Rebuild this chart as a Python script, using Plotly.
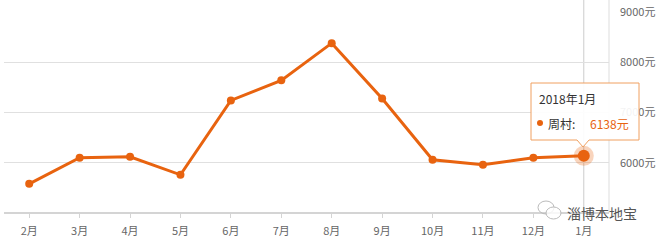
import plotly.graph_objects as go

months = ["2月", "3月", "4月", "5月", "6月", "7月", "8月", "9月", "10月", "11月", "12月", "1月"]
prices = [5580, 6100, 6120, 5760, 7240, 7640, 8380, 7280, 6060, 5960, 6100, 6138]
y_ticks = [6000, 7000, 8000, 9000]
y_tick_labels = ["6000元", "7000元", "8000元", "9000元"]
series_name = "周村"
hover_label = "2018年1月"

ORANGE = "#E8630F"
FONT = "Noto Sans CJK SC"

W, H = 668, 249
L, R, T, B = 4, 59, 12, 36
pw, ph = W - L - R, H - T - B

def px(x):
    return (x - L) / pw

def py(y):
    return (H - B - y) / ph

fig = go.Figure()
fig.add_trace(go.Scatter(
    x=months, y=prices, mode="lines+markers",
    line=dict(color=ORANGE, width=3),
    marker=dict(color=ORANGE, size=8),
    hoverinfo="skip", showlegend=False, cliponaxis=False,
))
fig.add_trace(go.Scatter(
    x=[months[-1]], y=[prices[-1]], mode="markers",
    marker=dict(color="rgba(232,99,15,0.28)", size=20),
    hoverinfo="skip", showlegend=False, cliponaxis=False,
))
fig.add_trace(go.Scatter(
    x=[months[-1]], y=[prices[-1]], mode="markers",
    marker=dict(color=ORANGE, size=12),
    hoverinfo="skip", showlegend=False, cliponaxis=False,
))

shapes = []
shapes.append(dict(type="line", xref="x", yref="paper", x0=months[-1], x1=months[-1], y0=0, y1=py(0),
                   line=dict(color="#cccccc", width=1), layer="below"))
shapes.append(dict(type="line", xref="paper", yref="paper", x0=1, x1=1, y0=0, y1=py(0),
                   line=dict(color="#dddddd", width=1), layer="below"))
shapes.append(dict(type="line", xref="paper", yref="paper", x0=0, x1=1, y0=0, y1=0,
                   line=dict(color="#d4d4d4", width=2), layer="below"))

bx0, bx1, by0, by1 = 531, 639, 83, 140
ax, ah, aw = 583, 7, 6
path = (f"M {px(bx0)} {py(by0)} L {px(bx1)} {py(by0)} L {px(bx1)} {py(by1)} "
        f"L {px(ax + aw)} {py(by1)} L {px(ax)} {py(by1 + ah)} L {px(ax - aw)} {py(by1)} "
        f"L {px(bx0)} {py(by1)} Z")
shapes.append(dict(type="path", xref="paper", yref="paper", path=path,
                   fillcolor="rgba(255,255,255,0.92)", line=dict(color="#F0A060", width=1)))
shapes.append(dict(type="circle", xref="paper", yref="paper",
                   x0=px(537), x1=px(543), y0=py(120), y1=py(126),
                   fillcolor=ORANGE, line=dict(width=0)))

shapes.append(dict(type="circle", xref="paper", yref="paper",
                   x0=px(538), x1=px(554), y0=py(201), y1=py(214),
                   line=dict(color="#bbbbbb", width=1), fillcolor="rgba(0,0,0,0)"))
shapes.append(dict(type="circle", xref="paper", yref="paper",
                   x0=px(546), x1=px(561), y0=py(207), y1=py(219),
                   line=dict(color="#bbbbbb", width=1), fillcolor="rgba(255,255,255,0.8)"))

annotations = [
    dict(xref="paper", yref="paper", x=px(537), y=py(98), text=hover_label, showarrow=False,
         xanchor="left", yanchor="middle", font=dict(family=FONT, size=12, color="#333333")),
    dict(xref="paper", yref="paper", x=px(546), y=py(123), text=f"{series_name}:", showarrow=False,
         xanchor="left", yanchor="middle", font=dict(family=FONT, size=12, color="#333333")),
    dict(xref="paper", yref="paper", x=px(588), y=py(123), text=f"{prices[-1]}元", showarrow=False,
         xanchor="left", yanchor="middle", font=dict(family=FONT, size=12, color=ORANGE)),
    dict(xref="paper", yref="paper", x=px(565), y=py(213), text="淄博本地宝", showarrow=False,
         xanchor="left", yanchor="middle", font=dict(family=FONT, size=14, color="#555555")),
]

fig.update_layout(
    width=W, height=H,
    margin=dict(l=L, r=R, t=T, b=B, autoexpand=False),
    paper_bgcolor="white", plot_bgcolor="white",
    font=dict(family=FONT, size=11, color="#666666"),
    shapes=shapes, annotations=annotations,
    xaxis=dict(type="category", range=[-0.5, len(months) - 0.5], showgrid=False,
               showline=False, zeroline=False, ticks="outside", ticklen=4,
               tickcolor="#d4d4d4", tickfont=dict(size=11, color="#666666"),
               ticklabelstandoff=4),
    yaxis=dict(range=[5000, 9000], side="right", tickmode="array", tickvals=y_ticks,
               ticktext=y_tick_labels, automargin=False,
               showgrid=True, gridcolor="#e0e0e0", gridwidth=1, zeroline=False,
               showline=False, tickfont=dict(size=11, color="#666666"),
               ticklabelstandoff=10),
)

fig.write_html("out.html")
